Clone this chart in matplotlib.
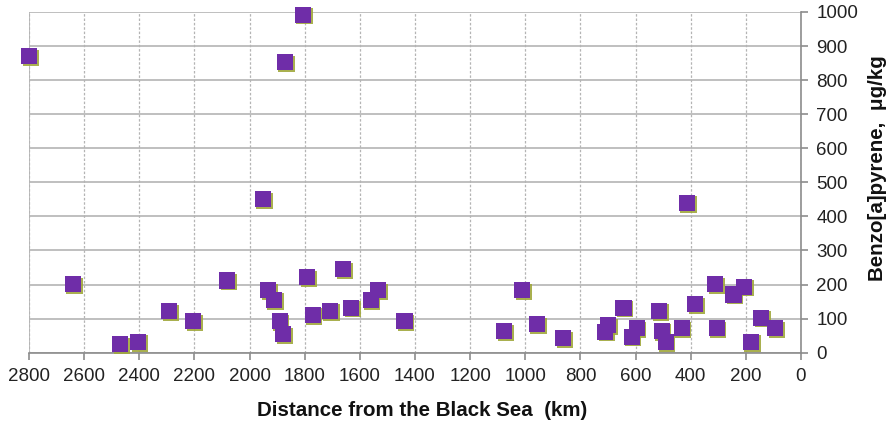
import matplotlib
matplotlib.use("Agg")
import matplotlib.pyplot as plt
import matplotlib.patheffects as pe

distance_km = [2800, 2641, 2470, 2404, 2292, 2205, 2082, 1952, 1933, 1912, 1891, 1879,
               1872, 1807, 1791, 1771, 1709, 1660, 1631, 1561, 1535, 1438, 1076, 1012,
               958, 863, 711, 699, 644, 614, 596, 515, 505, 491, 433, 414, 384, 312,
               306, 245, 206, 182, 145, 94]
bap_ugkg = [870, 201, 25, 32, 122, 93, 212, 450, 184, 155, 93, 55,
            852, 992, 222, 111, 123, 245, 132, 154, 183, 93, 63, 184,
            84, 42, 62, 81, 132, 47, 72, 123, 64, 32, 72, 440, 142, 201,
            72, 171, 194, 32, 103, 72]
x_ticks = list(range(2800, -1, -200))
y_ticks = list(range(0, 1001, 100))

plt.rcParams['font.family'] = ['Liberation Sans', 'DejaVu Sans']

fig = plt.figure(figsize=(8.95, 4.29), dpi=100)
ax = fig.add_axes([29/895, 1 - 352.7/429, (801-29)/895, (352.7-12)/429])

ax.set_xlim(2800, 0)
ax.set_ylim(0, 1000)
ax.set_xticks(x_ticks)
ax.set_yticks(y_ticks)

ax.yaxis.tick_right()

ax.grid(axis='y', color='#b4b4b4', linewidth=1.2, linestyle='-')
ax.grid(axis='x', color='#b4b4b4', linewidth=0.9, linestyle=(0, (2, 1.5)))
ax.set_axisbelow(True)

for side in ['top', 'left']:
    ax.spines[side].set_visible(False)
for side in ['right', 'bottom']:
    ax.spines[side].set_color('#8c8c8c')
    ax.spines[side].set_linewidth(1.2)
ax.axvline(2800, color='#b4b4b4', linewidth=1.2, zorder=0.5)

ax.tick_params(axis='both', colors='#8c8c8c', labelcolor='#222222',
               labelsize=13.5, length=5, width=1.2, direction='out')
ax.tick_params(axis='y', pad=6)
ax.tick_params(axis='x', pad=6)

ax.scatter(distance_km, bap_ugkg, marker='s', s=135, color='#6f2da8',
           edgecolors='none', zorder=3, clip_on=False,
           path_effects=[pe.SimplePatchShadow(offset=(1.2, -1.2),
                                              shadow_rgbFace='#a0a83c', alpha=0.9),
                         pe.Normal()])

fig.text(422.5/895, 1 - 410/429, 'Distance from the Black Sea  (km)', fontsize=14.8,
         fontweight='bold', color='#111111', ha='center', va='center')
fig.text(878/895, 1 - 168/429, 'Benzo[a]pyrene,  μg/kg', fontsize=14.8,
         fontweight='bold', color='#111111', rotation=90, ha='center', va='center')

fig.savefig('out.png', dpi=100)
